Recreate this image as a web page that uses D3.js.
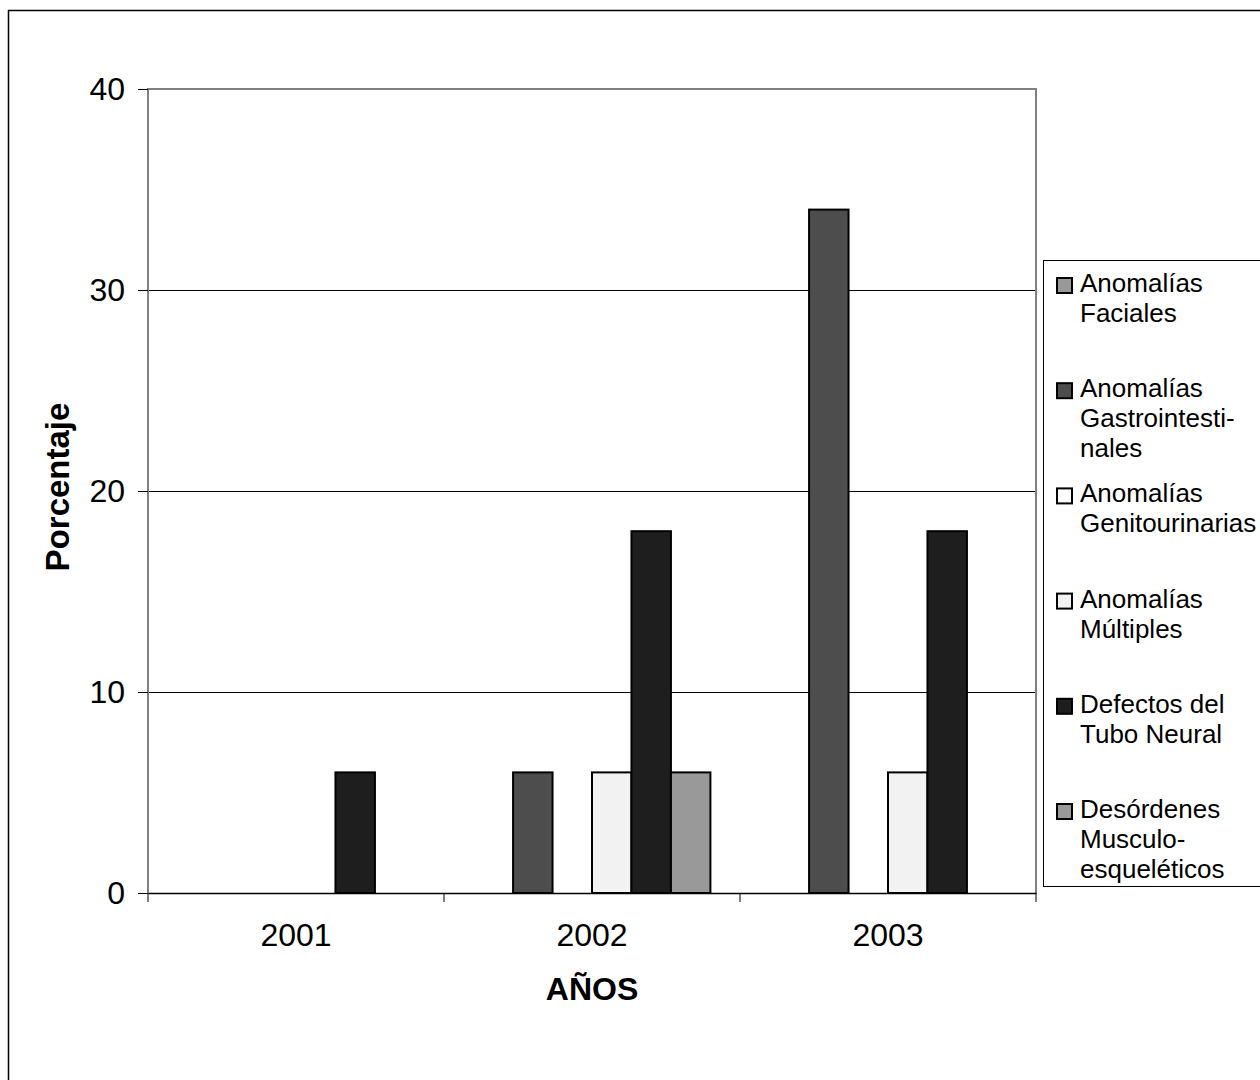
<!DOCTYPE html>
<html>
<head>
<meta charset="utf-8">
<script src="https://cdn.jsdelivr.net/npm/d3@7"></script>
<style>
  body { margin: 0; background: #fff; }
  text { font-family: "Liberation Sans", Arial, sans-serif; fill: #000; }
</style>
</head>
<body>
<svg width="1260" height="1080"></svg>
<script>
var years = ['2001', '2002', '2003'];
var seriesNames = [
    ['Anomalías', 'Faciales'],
    ['Anomalías', 'Gastrointesti-', 'nales'],
    ['Anomalías', 'Genitourinarias'],
    ['Anomalías', 'Múltiples'],
    ['Defectos del', 'Tubo Neural'],
    ['Desórdenes', 'Musculo-', 'esqueléticos']
];
var seriesColors = ['#999999', '#4d4d4d', '#ffffff', '#f2f2f2', '#1e1e1e', '#999999'];
// values per series, one per year
var faciales = [0, 0, 0];
var gastro = [0, 6, 34];
var genito = [0, 0, 0];
var multiples = [0, 6, 6];
var tubo = [6, 18, 18];
var musculo = [0, 6, 0];
var yTicks = [0, 10, 20, 30, 40];

var seriesValues = [faciales, gastro, genito, multiples, tubo, musculo];

var svg = d3.select('svg');

// outer frame
svg.append('rect')
    .attr('x', 8.5).attr('y', 10.5)
    .attr('width', 1300).attr('height', 1200)
    .attr('fill', 'none')
    .attr('stroke', '#000')
    .attr('stroke-width', 1.5);

var plotLeft = 148, plotRight = 1036, plotTop = 89, plotBottom = 893;

var xScale = d3.scaleBand()
    .domain(years)
    .range([plotLeft, plotRight]);

var inner = d3.scaleBand()
    .domain(d3.range(6))
    .range([0, xScale.bandwidth()])
    .paddingOuter(0.75)
    .paddingInner(0);

var yScale = d3.scaleLinear()
    .domain([0, 40])
    .range([plotBottom, plotTop]);

// gridlines
svg.append('g')
    .selectAll('line')
    .data([10, 20, 30])
    .enter()
    .append('line')
    .attr('x1', plotLeft).attr('x2', plotRight)
    .attr('y1', function(d){ return Math.round(yScale(d)) + 0.5; })
    .attr('y2', function(d){ return Math.round(yScale(d)) + 0.5; })
    .attr('stroke', '#000')
    .attr('stroke-width', 1);

// plot border (gray)
svg.append('path')
    .attr('d', 'M' + plotLeft + ',' + plotBottom + 'V' + plotTop + 'H' + plotRight + 'V' + plotBottom)
    .attr('fill', 'none')
    .attr('stroke', '#808080')
    .attr('stroke-width', 2);

// bars
var cells = [];
seriesValues.forEach(function(vals, s){
    vals.forEach(function(v, i){
        if (v > 0) cells.push({ s: s, year: years[i], value: v });
    });
});

svg.append('g')
    .selectAll('rect')
    .data(cells)
    .enter()
    .append('rect')
    .attr('x', function(d){ return xScale(d.year) + inner(d.s); })
    .attr('y', function(d){ return yScale(d.value); })
    .attr('width', inner.bandwidth())
    .attr('height', function(d){ return yScale(0) - yScale(d.value); })
    .attr('fill', function(d){ return seriesColors[d.s]; })
    .attr('stroke', '#000')
    .attr('stroke-width', 2);

// y axis
var yAxis = d3.axisLeft(yScale).tickValues(yTicks).tickSize(10).tickPadding(13);
var gy = svg.append('g')
    .attr('transform', 'translate(' + plotLeft + ',0)')
    .call(yAxis);
gy.select('.domain').remove();
gy.selectAll('.tick line').attr('stroke', '#000');
gy.selectAll('.tick text')
    .style('font-size', '32px')
    .style('font-family', '"Liberation Sans", Arial, sans-serif');

// x axis
var xAxis = d3.axisBottom(xScale).tickSize(0).tickPadding(30);
var gx = svg.append('g')
    .attr('transform', 'translate(0,' + plotBottom + ')')
    .call(xAxis);
gx.select('.domain').attr('stroke', '#000').attr('stroke-width', 1.5);
gx.selectAll('.tick text')
    .style('font-size', '32px')
    .style('font-family', '"Liberation Sans", Arial, sans-serif');
gx.selectAll('.sep')
    .data(years.concat(['end']))
    .enter()
    .append('line')
    .attr('class', 'sep')
    .attr('x1', function(d){ return d === 'end' ? plotRight : xScale(d); })
    .attr('x2', function(d){ return d === 'end' ? plotRight : xScale(d); })
    .attr('y1', 0).attr('y2', 9)
    .attr('stroke', '#000');

// axis titles
svg.append('text')
    .attr('transform', 'translate(69,487) rotate(-90)')
    .attr('text-anchor', 'middle')
    .style('font-size', '33px')
    .style('font-weight', 'bold')
    .text('Porcentaje');

svg.append('text')
    .attr('x', (plotLeft + plotRight) / 2)
    .attr('y', 1000)
    .attr('text-anchor', 'middle')
    .style('font-size', '32px')
    .style('font-weight', 'bold')
    .text('AÑOS');

// legend
svg.append('rect')
    .attr('x', 1043.5).attr('y', 260.5)
    .attr('width', 300).attr('height', 626)
    .attr('fill', '#fff')
    .attr('stroke', '#000')
    .attr('stroke-width', 1);

var legend = svg.append('g')
    .selectAll('g')
    .data(seriesNames)
    .enter()
    .append('g')
    .attr('transform', function(d, i){ return 'translate(1057,' + (283 + i * 105.2) + ')'; });

legend.append('rect')
    .attr('x', 0).attr('y', -5)
    .attr('width', 15).attr('height', 15)
    .attr('fill', function(d, i){ return seriesColors[i]; })
    .attr('stroke', '#000')
    .attr('stroke-width', 2);

legend.append('text')
    .attr('x', 23)
    .attr('y', 9)
    .style('font-size', '26px')
    .selectAll('tspan')
    .data(function(d){ return d; })
    .enter()
    .append('tspan')
    .attr('x', 23)
    .attr('dy', function(d, j){ return j === 0 ? 0 : 30; })
    .text(function(d){ return d; });
</script>
</body>
</html>
